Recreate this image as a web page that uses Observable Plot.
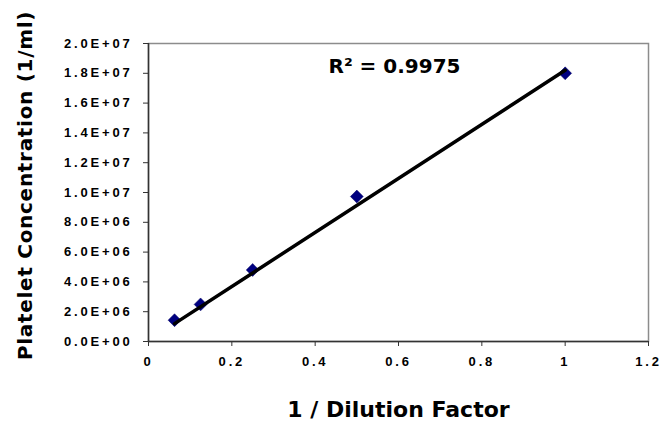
<!DOCTYPE html>
<html>
<head>
<meta charset="utf-8">
<script src="https://cdn.jsdelivr.net/npm/d3@7"></script>
<script src="https://cdn.jsdelivr.net/npm/@observablehq/plot@0.6"></script>
<style>
  html, body { margin: 0; padding: 0; background: #fff; }
  #chart svg { display: block; }
  #chart g[aria-label="y-axis tick label"] text,
  #chart g[aria-label="x-axis tick label"] text {
    font-family: Arial, "Liberation Sans", sans-serif !important;
    font-weight: 700 !important;
    font-size: 13px !important;
    letter-spacing: 2.8px;
    fill: #000 !important;
  }
  #chart .title-text {
    font-family: "DejaVu Sans", sans-serif;
    font-weight: bold;
  }
  #chart .ytitle text { letter-spacing: 0.7px; }
</style>
</head>
<body>
<div id="chart"></div>
<script>
// Data
const dilution = [0.0625, 0.125, 0.25, 0.5, 1.0];
const concentration = [1.43e6, 2.49e6, 4.8e6, 9.73e6, 1.80e7];
const trendX = [0.0625, 1.0];
const trendY = [1.2e6, 1.82e7];
const xTicks = [0, 0.2, 0.4, 0.6, 0.8, 1, 1.2];
const yTicks = [0, 2e6, 4e6, 6e6, 8e6, 1e7, 1.2e7, 1.4e7, 1.6e7, 1.8e7, 2e7];
const rSquaredLabel = "R² = 0.9975";
const xTitle = "1 / Dilution Factor";
const yTitle = "Platelet Concentration (1/ml)";

const points = dilution.map((x, i) => ({x, y: concentration[i]}));
const trend = trendX.map((x, i) => ({x, y: trendY[i]}));

const fmtY = d => {
  const [m, e] = d.toExponential(1).split("e");
  return `${m.toUpperCase()}E${e[0]}${e.slice(1).padStart(2, "0")}`;
};

const tickFont = {fontFamily: "Arial, Liberation Sans, sans-serif", fontWeight: "bold", fontSize: 13, fill: "#000"};

const chart = Plot.plot({
  width: 661,
  height: 421,
  marginLeft: 148,
  marginRight: 13,
  marginTop: 43,
  marginBottom: 80,
  style: {background: "#fff", overflow: "visible", color: "#000"},
  x: {domain: [0, 1.2]},
  y: {domain: [0, 2e7]},
  marks: [
    Plot.frame({stroke: "#8c8c8c", strokeWidth: 1.5}),
    Plot.axisX({ticks: xTicks, tickFormat: d => String(d), tickSize: 5, tickPadding: 10, stroke: "#333", label: null, ...tickFont}),
    Plot.axisY({ticks: yTicks, tickFormat: fmtY, tickSize: 5, tickPadding: 11, stroke: "#333", label: null, ...tickFont}),
    Plot.ruleX([0], {stroke: "#333", strokeWidth: 1.5}),
    Plot.ruleY([0], {stroke: "#333", strokeWidth: 1.5}),
    Plot.dot(points, {x: "x", y: "y", symbol: "diamond2", r: 5.8, fill: "#000080", stroke: "#000060", strokeWidth: 0.5}),
    Plot.line(trend, {x: "x", y: "y", stroke: "#000", strokeWidth: 3.5}),
    Plot.text([rSquaredLabel], {frameAnchor: "top", dx: -4, dy: 23, lineAnchor: "middle", fontSize: 20, fill: "#000", className: "title-text"}),
    Plot.text([xTitle], {frameAnchor: "bottom", dy: 68, lineAnchor: "middle", fontSize: 22, fill: "#000", className: "title-text"}),
    Plot.text([yTitle], {frameAnchor: "left", dx: -123, dy: -7, rotate: -90, textAnchor: "middle", lineAnchor: "middle", fontSize: 20, fill: "#000", className: "title-text ytitle"})
  ]
});
document.getElementById("chart").appendChild(chart);
</script>
</body>
</html>
